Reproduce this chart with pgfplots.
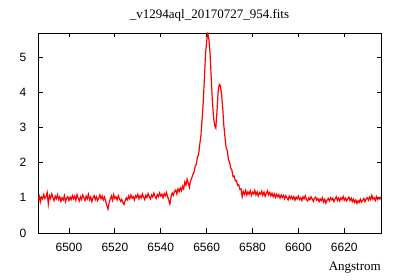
\documentclass[border=0pt]{standalone}
\usepackage{pgfplots}
\pgfplotsset{compat=1.18}
\usepackage{pgfplotstable}
\usepackage{fontspec}
\setmainfont{Liberation Serif}
\setsansfont{Liberation Sans}
\pgfplotstableread{
x y
6486.5 0.95
6487.0 1.05
6487.5 0.88
6488.0 1.02
6488.5 0.97
6489.0 1.09
6489.5 0.98
6490.0 1.03
6490.5 1.15
6491.0 0.82
6491.5 1.06
6492.0 0.98
6492.5 1.11
6493.0 1.01
6493.5 0.92
6494.0 1.05
6494.5 0.97
6495.0 1.08
6495.5 0.95
6496.0 1.03
6496.5 0.90
6497.0 1.00
6497.5 0.94
6498.0 1.06
6498.5 0.89
6499.0 0.99
6499.5 1.03
6500.0 0.92
6500.5 1.02
6501.0 0.95
6501.5 1.06
6502.0 0.97
6502.5 1.05
6503.0 0.93
6503.5 1.09
6504.0 0.99
6504.5 0.91
6505.0 1.03
6505.5 0.95
6506.0 1.08
6506.5 1.00
6507.0 0.92
6507.5 1.05
6508.0 0.97
6508.5 1.10
6509.0 0.94
6509.5 1.02
6510.0 0.89
6510.5 1.00
6511.0 1.06
6511.5 0.95
6512.0 1.03
6512.5 0.92
6513.0 0.99
6513.5 1.08
6514.0 0.97
6514.5 1.05
6515.0 0.94
6515.5 1.02
6516.0 0.90
6516.5 0.78
6517.0 0.68
6517.5 0.86
6518.0 0.96
6518.5 1.05
6519.0 0.93
6519.5 1.09
6520.0 0.98
6520.5 1.03
6521.0 0.94
6521.5 1.06
6522.0 0.97
6522.5 0.90
6523.0 0.96
6523.5 0.86
6524.0 0.81
6524.5 0.92
6525.0 1.00
6525.5 0.94
6526.0 1.05
6526.5 0.97
6527.0 1.08
6527.5 0.99
6528.0 1.03
6528.5 0.94
6529.0 1.06
6529.5 1.01
6530.0 1.10
6530.5 0.97
6531.0 1.06
6531.5 1.00
6532.0 1.11
6532.5 1.02
6533.0 0.95
6533.5 1.07
6534.0 1.01
6534.5 1.12
6535.0 1.03
6535.5 0.97
6536.0 1.08
6536.5 1.02
6537.0 1.13
6537.5 1.04
6538.0 0.98
6538.5 1.09
6539.0 1.03
6539.5 1.14
6540.0 1.05
6540.5 1.10
6541.0 1.00
6541.5 1.12
6542.0 1.06
6542.5 1.15
6543.0 1.03
6543.5 0.93
6544.0 0.82
6544.5 1.03
6545.0 1.14
6545.5 1.07
6546.0 1.18
6546.5 1.22
6547.0 1.11
6547.5 1.25
6548.0 1.17
6548.5 1.28
6549.0 1.20
6549.5 1.33
6550.0 1.25
6550.5 1.45
6551.0 1.36
6551.5 1.53
6552.0 1.42
6552.5 1.30
6553.0 1.49
6553.5 1.56
6554.0 1.66
6554.5 1.72
6555.0 1.90
6555.5 1.95
6556.0 2.16
6556.5 2.22
6557.0 2.52
6557.5 2.75
6558.0 3.20
6558.5 3.70
6559.0 4.35
6559.5 5.05
6560.0 5.45
6560.5 5.66
6561.0 5.50
6561.5 5.10
6562.0 4.40
6562.5 3.75
6563.0 3.30
6563.5 3.05
6564.0 2.98
6564.5 3.45
6565.0 4.00
6565.5 4.22
6566.0 4.18
6566.5 3.95
6567.0 3.55
6567.5 3.05
6568.0 2.72
6568.5 2.42
6569.0 2.34
6569.5 2.08
6570.0 2.02
6570.5 1.84
6571.0 1.79
6571.5 1.60
6572.0 1.62
6572.5 1.48
6573.0 1.49
6573.5 1.35
6574.0 1.37
6574.5 1.24
6575.0 1.25
6575.5 1.03
6576.0 1.18
6576.5 1.10
6577.0 1.21
6577.5 1.08
6578.0 1.17
6578.5 1.10
6579.0 1.20
6579.5 1.07
6580.0 1.16
6580.5 1.11
6581.0 1.21
6581.5 1.08
6582.0 1.17
6582.5 1.05
6583.0 1.15
6583.5 1.10
6584.0 1.19
6584.5 1.07
6585.0 1.16
6585.5 1.04
6586.0 1.13
6586.5 1.20
6587.0 1.08
6587.5 1.15
6588.0 1.05
6588.5 1.13
6589.0 1.03
6589.5 1.11
6590.0 1.01
6590.5 1.10
6591.0 1.03
6591.5 1.09
6592.0 0.99
6592.5 1.08
6593.0 1.01
6593.5 1.07
6594.0 0.97
6594.5 1.06
6595.0 1.00
6595.5 0.94
6596.0 1.05
6596.5 0.98
6597.0 1.04
6597.5 0.96
6598.0 1.03
6598.5 0.93
6599.0 1.02
6599.5 0.97
6600.0 1.05
6600.5 0.95
6601.0 1.00
6601.5 0.92
6602.0 1.03
6602.5 0.97
6603.0 1.06
6603.5 0.95
6604.0 0.91
6604.5 1.00
6605.0 0.94
6605.5 1.03
6606.0 0.97
6606.5 0.90
6607.0 0.99
6607.5 1.02
6608.0 0.93
6608.5 0.98
6609.0 0.89
6609.5 0.97
6610.0 0.92
6610.5 1.00
6611.0 0.88
6611.5 0.96
6612.0 0.85
6612.5 0.93
6613.0 0.98
6613.5 0.91
6614.0 1.00
6614.5 0.94
6615.0 0.99
6615.5 0.89
6616.0 0.97
6616.5 1.03
6617.0 0.92
6617.5 0.99
6618.0 0.91
6618.5 1.00
6619.0 0.95
6619.5 1.04
6620.0 0.93
6620.5 0.99
6621.0 0.91
6621.5 0.97
6622.0 1.02
6622.5 0.92
6623.0 0.99
6623.5 0.89
6624.0 0.96
6624.5 0.87
6625.0 0.94
6625.5 0.84
6626.0 0.92
6626.5 0.87
6627.0 0.96
6627.5 0.88
6628.0 0.93
6628.5 0.98
6629.0 0.89
6629.5 0.97
6630.0 1.00
6630.5 0.93
6631.0 1.02
6631.5 0.95
6632.0 1.07
6632.5 0.96
6633.0 1.00
6633.5 0.92
6634.0 1.03
6634.5 0.95
6635.0 1.01
6635.5 0.96
6636.0 1.03
}\spectrum
\begin{document}
\begin{tikzpicture}
\path[use as bounding box] (-38bp,-47bp) rectangle (362bp,233bp);
\begin{axis}[
  at={(0,0)}, anchor=south west,
  scale only axis, width=343bp, height=200bp,
  xmin=6486.5, xmax=6636, ymin=0, ymax=5.68,
  tick align=inside, major tick length=4.5bp,
  xtick={6500,6520,...,6620}, ytick={0,1,...,5},
  axis line style={line width=0.8bp},
  every tick/.style={black, line width=0.8bp},
  /pgf/number format/1000 sep={},
  /pgf/number format/assume math mode=true,
  tick label style={font=\sffamily\fontsize{12bp}{14bp}\selectfont},
  xticklabel style={anchor=north, inner sep=0pt, yshift=-10bp},
  yticklabel style={anchor=east, inner sep=0pt, xshift=-11.5bp},
  title={\_v1294aql\_20170727\_954.fits},
  title style={at={(axis description cs:0.5,1)}, anchor=base, inner sep=0pt, yshift=9bp, font=\fontsize{13bp}{15bp}\selectfont},
  xlabel={Angstrom},
  xlabel style={at={(axis description cs:1,0)}, anchor=base east, inner sep=0pt, yshift=-37bp, font=\fontsize{13bp}{15bp}\selectfont},
]
\addplot[red, line width=1.2bp, mark=none] table[x=x, y=y] {\spectrum};
\end{axis}
\end{tikzpicture}
\end{document}
